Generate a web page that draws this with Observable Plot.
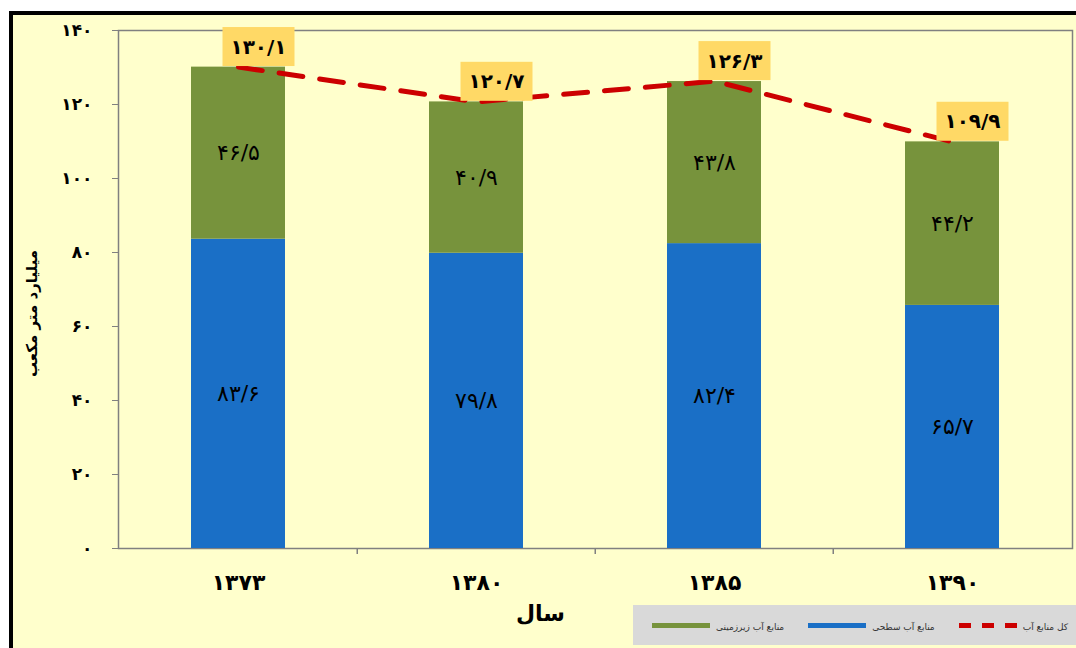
<!DOCTYPE html>
<html>
<head>
<meta charset="utf-8">
<script src="https://cdn.jsdelivr.net/npm/d3@7"></script>
<script src="https://cdn.jsdelivr.net/npm/@observablehq/plot@0.6"></script>
<style>
  html, body { margin: 0; padding: 0; background: #ffffff; overflow: hidden; width: 1076px; height: 648px; }
  #frame { position: absolute; left: 9px; top: 11px; width: 1100px; height: 700px; border: 4px solid #000; background: #ffffcc; box-sizing: border-box; }
  #chart { position: absolute; left: 0; top: 0; }
  #chart svg { font-family: "DejaVu Sans", sans-serif; }
  #legend { position: absolute; left: 633px; top: 605px; width: 460px; height: 40px; background: #d9d9d9;
            display: flex; align-items: center; font-family: "DejaVu Sans", sans-serif; font-size: 9px; color: #333; white-space: nowrap; }
  .item { display: flex; align-items: center; margin-left: 19px; flex-shrink: 0; }
  .item + .item { margin-left: 24px; }
  .sw { width: 58px; height: 5px; margin-right: 6px; flex-shrink: 0; }
  .item span { position: relative; top: 2px; }
</style>
</head>
<body>
<div id="frame"></div>
<div id="chart"></div>
<div id="legend"></div>
<script>
// ---- data ----
const years = ["۱۳۷۳", "۱۳۸۰", "۱۳۸۵", "۱۳۹۰"];
const surface = [83.6, 79.8, 82.4, 65.7];
const ground = [46.5, 40.9, 43.8, 44.2];
const total = [130.1, 120.7, 126.3, 109.9];
const yTicks = [0, 20, 40, 60, 80, 100, 120, 140];
const surfaceName = "منابع آب سطحی";
const groundName = "منابع آب زیرزمینی";
const totalName = "کل منابع آب";
const yTitle = "میلیارد متر مکعب";
const xTitle = "سال";

const blue = "#1a6fc6";
const green = "#77933c";
const red = "#cc0000";
const boxFill = "#ffd966";

const fa = n => String(n).replace(/\d/g, d => "۰۱۲۳۴۵۶۷۸۹"[d]).replace(".", "/");

const stacked = years.flatMap((y, i) => [
  {year: y, series: surfaceName, value: surface[i]},
  {year: y, series: groundName, value: ground[i]}
]);
const totals = years.map((y, i) => ({year: y, value: total[i]}));

const W = 1076, H = 648, mL = 118, mR = 4, mT = 30, mB = 100;
const step = (W - mL - mR) / years.length;

const chart = Plot.plot({
  width: W, height: H,
  marginLeft: mL, marginRight: mR, marginTop: mT, marginBottom: mB,
  style: {background: "transparent", fontFamily: "DejaVu Sans, sans-serif", color: "#000"},
  x: {domain: years, paddingInner: 0.606, paddingOuter: 0.303, label: null},
  y: {domain: [0, 140], label: null},
  color: {domain: [surfaceName, groundName], range: [blue, green]},
  marks: [
    Plot.frame({stroke: "#808080", strokeWidth: 1.5}),
    Plot.barY(stacked, {x: "year", y: "value", z: "series", fill: "series", order: [surfaceName, groundName]}),
    Plot.text(stacked, Plot.stackY({x: "year", y: "value", z: "series", order: [surfaceName, groundName],
      text: d => fa(d.value), fontSize: 22, fill: "#000"})),
    Plot.line(totals, {x: "year", y: "value", stroke: red, strokeWidth: 5, strokeDasharray: "24,17"}),
    Plot.text(totals, {x: "year", y: "value", text: d => fa(d.value), dx: 20, dy: -20,
      fontSize: 20, fontWeight: "bold", fill: "#000"}),
    Plot.axisY({ticks: yTicks, tickFormat: fa, tickSize: 6, tickPadding: 20, fontSize: 17,
      stroke: "#808080", label: null}),
    Plot.text([yTitle], {frameAnchor: "left", textAnchor: "middle", rotate: -90, dx: -86, dy: 24, text: d => d,
      fontSize: 15, fontWeight: "bold", fill: "#000"}),
    Plot.axisX({tickSize: 0, tickPadding: 26, fontSize: 22, label: null}),
    Plot.ruleX(years.slice(1), {x: d => d, y1: 0, y2: 0, dx: -step / 2, insetBottom: -6, stroke: "#808080", strokeWidth: 1.5}),
    Plot.text([xTitle], {frameAnchor: "bottom", dy: 72, dx: -55, text: d => d, fontSize: 22, fontWeight: "bold", fill: "#000"})
  ]
});
document.getElementById("chart").appendChild(chart);

// bold tick labels
chart.querySelectorAll('g[aria-label="y-axis tick label"] text, g[aria-label="x-axis tick label"] text')
  .forEach(t => t.setAttribute("font-weight", "bold"));

// label boxes behind the totals
const textGroups = chart.querySelectorAll('g[aria-label="text"]');
const totalGroup = textGroups[1];
if (totalGroup) {
  totalGroup.querySelectorAll("text").forEach(t => {
    const b = t.getBBox();
    const bw = 72, bh = 39;
    const r = document.createElementNS("http://www.w3.org/2000/svg", "rect");
    r.setAttribute("x", b.x + b.width / 2 - bw / 2);
    r.setAttribute("y", b.y + b.height / 2 - bh / 2);
    r.setAttribute("width", bw);
    r.setAttribute("height", bh);
    r.setAttribute("fill", boxFill);
    if (t.getAttribute("transform")) r.setAttribute("transform", t.getAttribute("transform"));
    totalGroup.insertBefore(r, totalGroup.firstChild);
  });
}

// legend
const legend = document.getElementById("legend");
[[groundName, "solid", green], [surfaceName, "solid", blue], [totalName, "dash", red]].forEach(([name, kind, col]) => {
  const item = document.createElement("div");
  item.className = "item";
  const sw = document.createElement("div");
  sw.className = "sw";
  sw.style.background = kind === "dash"
    ? `repeating-linear-gradient(to right, ${col} 0 12px, transparent 12px 23px)`
    : col;
  const lab = document.createElement("span");
  lab.textContent = name;
  item.appendChild(sw);
  item.appendChild(lab);
  legend.appendChild(item);
});
</script>
</body>
</html>
